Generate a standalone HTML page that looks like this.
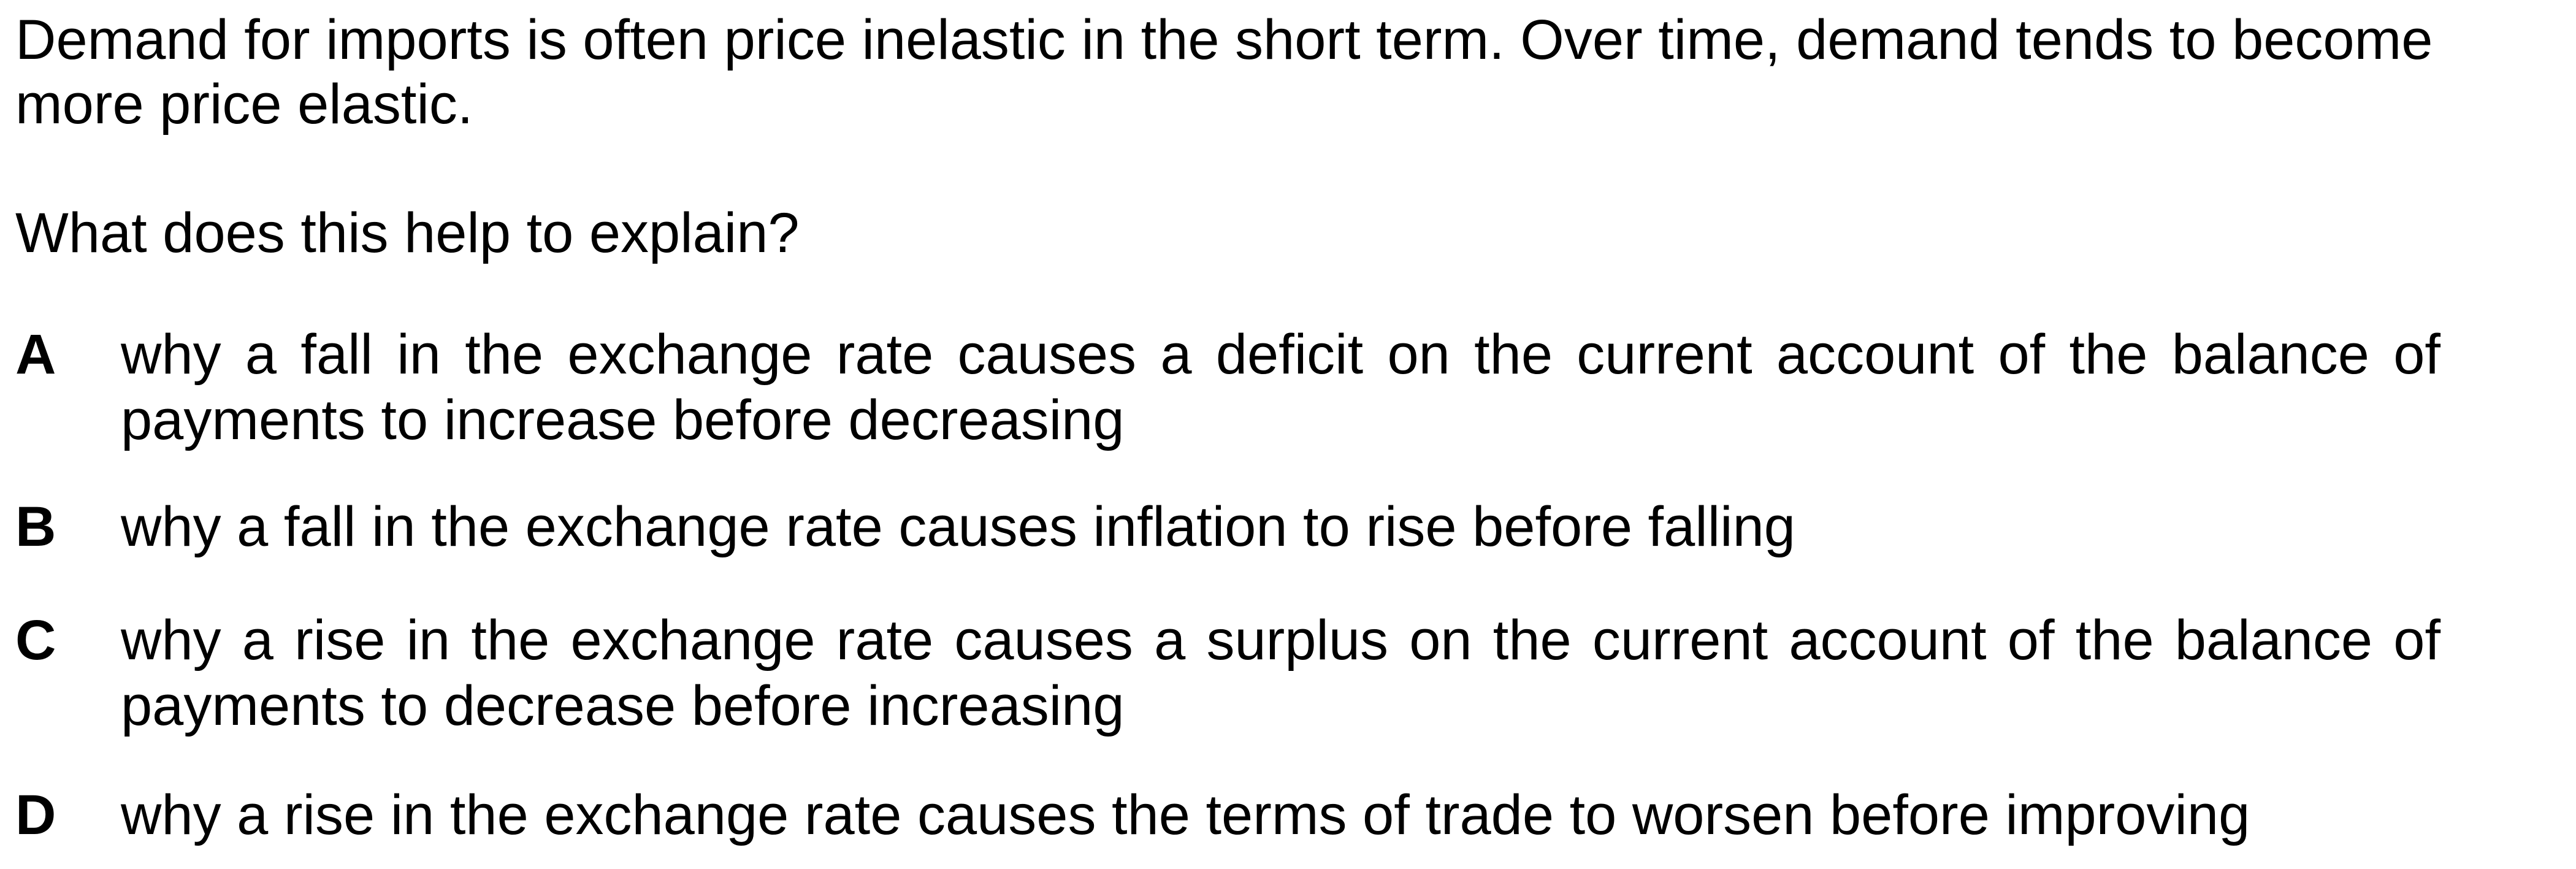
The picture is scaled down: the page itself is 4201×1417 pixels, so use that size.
<!DOCTYPE html>
<html><head><meta charset="utf-8">
<style>
html,body{margin:0;padding:0;background:#fff;}
body{width:4201px;height:1417px;position:relative;overflow:hidden;font-family:"Liberation Sans",Arial,sans-serif;font-size:92px;line-height:107px;color:#000;}
.l{position:absolute;white-space:nowrap;}
.j{position:absolute;left:197px;width:3783px;text-align:justify;text-align-last:justify;white-space:normal;}
.t{position:absolute;left:197px;white-space:nowrap;}
.k{position:absolute;left:25px;font-weight:bold;}
</style></head><body>
<div class="l" style="left:25px;top:12px">Demand for imports is often price inelastic in the short term. Over time, demand tends to become</div>
<div class="l" style="left:25px;top:117px">more price elastic.</div>
<div class="l" style="left:25px;top:327px">What does this help to explain?</div>

<div>
<div class="k" style="top:525px">A</div>
<div class="j" style="top:525px">why a fall in the exchange rate causes a deficit on the current account of the balance of</div>
<div class="t" style="top:632px">payments to increase before decreasing</div>
</div>

<div>
<div class="k" style="top:806px">B</div>
<div class="t" style="top:806px">why a fall in the exchange rate causes inflation to rise before falling</div>
</div>

<div>
<div class="k" style="top:991px">C</div>
<div class="j" style="top:991px">why a rise in the exchange rate causes a surplus on the current account of the balance of</div>
<div class="t" style="top:1098px">payments to decrease before increasing</div>
</div>

<div>
<div class="k" style="top:1276px">D</div>
<div class="t" style="top:1276px">why a rise in the exchange rate causes the terms of trade to worsen before improving</div>
</div>
</body></html>
